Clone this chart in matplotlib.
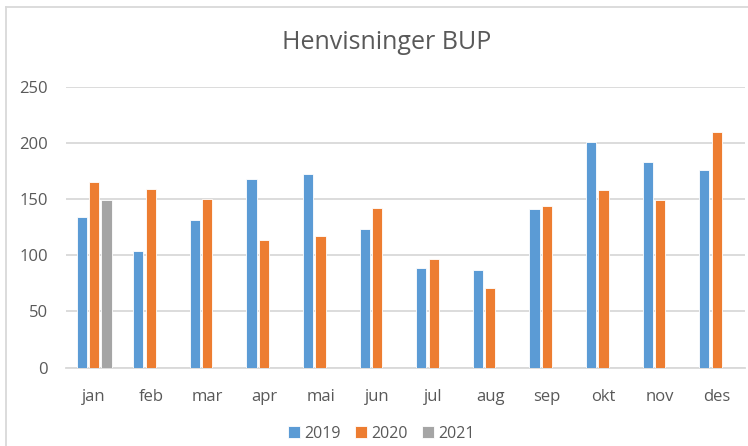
import numpy as np
import matplotlib
matplotlib.use("Agg")
import matplotlib.pyplot as plt
from matplotlib.lines import Line2D

# Henvisninger BUP per month
months = ["jan", "feb", "mar", "apr", "mai", "jun",
          "jul", "aug", "sep", "okt", "nov", "des"]
v2019 = [134, 104, 131, 168, 172, 123, 89, 87, 141, 201, 183, 176]
v2020 = [165, 159, 150, 114, 117, 142, 97, 71, 144, 158, 149, 210]
v2021 = [149]  # only january so far

colors = {"2019": "#5B9BD5", "2020": "#ED7D31", "2021": "#A5A5A5"}
text_col = "#595959"
grid_col = "#D9D9D9"

plt.rcParams["font.family"] = ["Open Sans", "DejaVu Sans"]

fig = plt.figure(figsize=(7.48, 4.46), dpi=100)
ax = fig.add_axes([0.088, 0.1756, 0.908, 0.63])

x = np.arange(len(months))
w = 0.18
step = 0.218
ax.bar(x - step, v2019, w, color=colors["2019"], edgecolor="white", linewidth=0.6, label="2019", zorder=3)
ax.bar(x, v2020, w, color=colors["2020"], edgecolor="white", linewidth=0.6, label="2020", zorder=3)
ax.bar(x[:len(v2021)] + step, v2021, w, color=colors["2021"], edgecolor="white", linewidth=0.6, label="2021", zorder=3)

ax.set_xlim(-0.5, len(months) - 0.5)
ax.set_ylim(0, 250)
ax.set_yticks(range(0, 251, 50))
ax.set_xticks(x)
ax.set_xticklabels(months)
ax.yaxis.grid(True, color=grid_col, linewidth=1.3, zorder=0)
ax.set_axisbelow(True)
for s in ["top", "right", "left"]:
    ax.spines[s].set_visible(False)
ax.spines["bottom"].set_color(grid_col)
ax.spines["bottom"].set_linewidth(1.3)
ax.tick_params(axis="both", length=0, labelsize=12, colors=text_col)
ax.tick_params(axis="x", pad=15)
ax.tick_params(axis="y", pad=13)

fig.text(0.517, 0.905, "Henvisninger BUP", ha="center", va="center",
         fontsize=18, color=text_col)

leg = fig.legend(loc="center", bbox_to_anchor=(0.51, 0.028), ncol=3, frameon=False,
                 fontsize=11.5, handlelength=0.75, handleheight=0.75, handletextpad=0.25,
                 columnspacing=0.9, labelcolor=text_col)

# chart border (left and top)
fig.add_artist(Line2D([6 / 748, 6 / 748], [0, 1 - 7 / 446], transform=fig.transFigure,
                      color=grid_col, linewidth=1.3))
fig.add_artist(Line2D([6 / 748, 1], [1 - 7 / 446, 1 - 7 / 446], transform=fig.transFigure,
                      color=grid_col, linewidth=1.3))

fig.savefig("out.png", dpi=100, facecolor="white")
